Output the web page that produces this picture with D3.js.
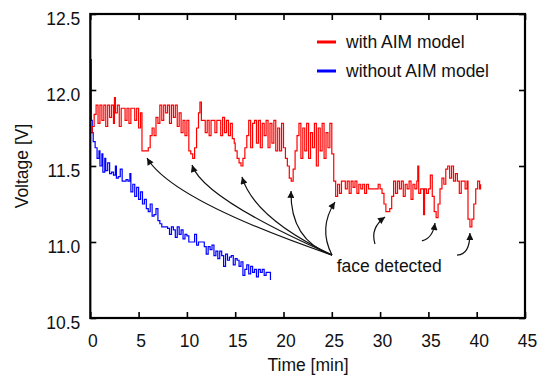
<!DOCTYPE html>
<html>
<head>
<meta charset="utf-8">
<script src="https://cdn.jsdelivr.net/npm/d3@7"></script>
<style>
  body { margin: 0; background: #fff; }
  text { font-family: "Liberation Sans", Arial, Helvetica, sans-serif; fill: #111; }
</style>
</head>
<body>
<div id="chart"></div>
<script>
// voltage traces, [time (min), volts]
var withAim = [
  [0,11.72],[0.2,11.76],[0.4,11.84],
  [0.6,11.90],[0.8,11.78],[1.0,11.90],[1.2,11.80],[1.4,11.90],[1.6,11.76],[1.8,11.90],[2.0,11.82],[2.2,11.90],[2.4,11.78],[2.5,11.95],[2.6,11.85],[2.8,11.90],[3.0,11.76],[3.2,11.88],[3.4,11.88],[3.6,11.80],[3.8,11.88],[4.0,11.78],[4.2,11.88],[4.4,11.88],[4.6,11.80],[4.8,11.88],[5.0,11.75],[5.2,11.85],
  [5.35,11.60],[5.6,11.60],[5.8,11.60],[6.0,11.62],
  [6.2,11.70],[6.4,11.75],[6.6,11.70],[6.8,11.82],[7.0,11.78],[7.2,11.90],[7.4,11.80],[7.6,11.90],[7.8,11.85],[8.0,11.90],[8.2,11.78],[8.4,11.90],[8.6,11.82],[8.8,11.90],[9.0,11.76],[9.2,11.85],[9.4,11.72],[9.6,11.80],[9.8,11.70],[10.0,11.80],
  [10.2,11.60],[10.4,11.58],[10.6,11.55],[10.8,11.62],
  [11.0,11.75],[11.2,11.85],[11.35,11.92],[11.5,11.80],[11.7,11.80],[11.9,11.72],[12.1,11.80],[12.3,11.70],[12.5,11.80],[12.7,11.80],[12.9,11.72],[13.1,11.80],[13.3,11.80],[13.5,11.70],[13.7,11.82],[13.9,11.72],[14.1,11.80],[14.3,11.70],[14.5,11.78],[14.7,11.68],[14.9,11.65],[15.0,11.60],
  [15.2,11.55],[15.4,11.52],[15.6,11.50],[15.8,11.55],[16.0,11.62],
  [16.2,11.70],[16.4,11.80],[16.6,11.62],[16.8,11.78],[17.0,11.80],[17.2,11.65],[17.4,11.80],[17.6,11.62],[17.8,11.78],[18.0,11.70],[18.2,11.80],[18.4,11.62],[18.6,11.78],[18.8,11.65],[19.0,11.80],[19.2,11.60],[19.4,11.75],[19.6,11.60],[19.8,11.78],[20.0,11.62],[20.2,11.55],
  [20.4,11.50],[20.6,11.42],[20.8,11.40],[21.0,11.48],
  [21.2,11.60],[21.4,11.70],[21.6,11.78],[21.8,11.55],[22.0,11.75],[22.2,11.60],[22.4,11.78],[22.6,11.55],[22.8,11.72],[23.0,11.62],[23.2,11.78],[23.4,11.50],[23.6,11.75],[23.8,11.60],[24.0,11.78],[24.2,11.55],[24.4,11.72],[24.6,11.62],[24.8,11.78],[25.0,11.58],
  [25.2,11.40],[25.4,11.30],[25.6,11.38],[25.8,11.32],[26.0,11.40],[26.2,11.40],[26.4,11.35],[26.6,11.40],[26.8,11.32],[27.0,11.40],[27.2,11.36],[27.4,11.40],[27.6,11.32],[27.8,11.38],[28.0,11.35],[28.2,11.38],[28.4,11.32],[28.6,11.38],[28.8,11.35],[29.0,11.35],[29.2,11.35],[29.4,11.35],[29.6,11.35],[29.8,11.38],[30.0,11.35],[30.2,11.32],
  [30.4,11.25],[30.6,11.20],[30.8,11.20],[31.0,11.22],[31.2,11.30],
  [31.4,11.40],[31.6,11.32],[31.8,11.40],[32.0,11.35],[32.2,11.40],[32.4,11.30],[32.6,11.38],[32.8,11.35],[33.0,11.40],[33.2,11.28],[33.4,11.38],[33.6,11.35],[33.8,11.40],[33.9,11.50],[34.0,11.32],[34.2,11.35],[34.4,11.35],[34.5,11.18],[34.6,11.35],[34.8,11.32],[35.0,11.35],[35.2,11.44],[35.4,11.30],
  [35.6,11.20],[35.8,11.16],[36.0,11.25],
  [36.2,11.35],[36.4,11.42],[36.6,11.38],[36.8,11.48],[37.0,11.50],[37.2,11.42],[37.4,11.50],[37.6,11.40],[37.8,11.45],[38.0,11.40],[38.2,11.32],[38.4,11.40],[38.6,11.40],[38.8,11.35],[39.0,11.40],
  [39.1,11.15],[39.3,11.10],[39.5,11.15],[39.7,11.25],[39.9,11.35],[40.1,11.40],[40.3,11.35],[40.4,11.38]
];

var withoutAim = [
  [0,12.20],[0.1,11.80],[0.2,11.72],[0.3,11.66],[0.5,11.62],[0.7,11.55],[0.9,11.60],[1.0,11.50],[1.2,11.58],[1.3,11.46],[1.5,11.55],[1.6,11.47],[1.8,11.52],[2.0,11.45],[2.2,11.46],[2.4,11.44],[2.6,11.50],[2.7,11.42],[2.9,11.43],[3.1,11.48],[3.3,11.40],[3.5,11.40],[3.7,11.41],[3.9,11.40],[4.1,11.45],[4.2,11.33],[4.4,11.38],[4.6,11.30],[4.8,11.36],[5.0,11.28],[5.2,11.33],[5.4,11.25],[5.6,11.28],[5.8,11.22],[6.0,11.20],[6.2,11.25],[6.4,11.17],[6.6,11.18],[6.8,11.22],[7.0,11.14],[7.2,11.12],[7.4,11.10],[7.6,11.10],[7.8,11.10],[8.0,11.09],[8.2,11.05],[8.4,11.10],[8.6,11.08],[8.8,11.03],[9.0,11.10],[9.2,11.05],[9.4,11.08],[9.6,11.02],[9.8,11.05],[10.0,11.04],[10.2,11.00],[10.4,11.00],[10.6,11.00],[10.8,11.05],[11.0,10.98],[11.2,11.00],[11.4,11.00],[11.6,11.00],[11.8,10.97],[12.0,10.92],[12.2,10.97],[12.4,10.95],[12.6,10.98],[12.8,10.91],[13.0,10.94],[13.2,10.89],[13.4,10.94],[13.6,10.91],[13.8,10.84],[14.0,10.92],[14.2,10.88],[14.4,10.90],[14.6,10.91],[14.8,10.85],[15.0,10.89],[15.2,10.88],[15.4,10.84],[15.6,10.87],[15.8,10.78],[16.0,10.82],[16.2,10.85],[16.4,10.79],[16.6,10.84],[16.8,10.80],[17.0,10.82],[17.2,10.77],[17.4,10.82],[17.6,10.80],[17.8,10.82],[18.0,10.78],[18.2,10.80],[18.4,10.80],[18.6,10.80],[18.65,10.75]
];

var seriesNames = ["with AIM model", "without AIM model"];
var seriesColors = ["#ff0000", "#0000ff"];
var xTicks = [0,5,10,15,20,25,30,35,40,45];
var yTicks = [10.5,11.0,11.5,12.0,12.5];

// "face detected" arrows: start, bend, tip (time, volts)
var arrowStarts = [[25.02,10.914],[25.02,10.914],[25.02,10.914],[25.02,10.914],[25.02,10.914],[29.47,10.987],[34.33,11.007],[37.96,10.914]];
var arrowBends  = [[8.46,11.276],[11.67,11.289],[16.95,11.158],[20.67,11.013],[23.57,11.092],[28.95,11.092],[35.47,11.026],[39.30,10.914]];
var arrowTips   = [[5.87,11.553],[10.53,11.507],[15.70,11.428],[20.78,11.336],[25.33,11.263],[30.51,11.164],[35.68,11.125],[39.30,11.059]];
var noteText = "face detected";
var notePos = [25.5, 10.80];

var width = 539, height = 376;
var x = d3.scaleLinear().domain([0,45]).range([90.3,525]);
var y = d3.scaleLinear().domain([10.5,12.5]).range([318,14]);

var svg = d3.select("#chart").append("svg")
  .attr("width", width)
  .attr("height", height);

svg.append("defs").append("marker")
  .attr("id", "head")
  .attr("viewBox", "0 0 10 10")
  .attr("refX", 10).attr("refY", 5)
  .attr("markerWidth", 8).attr("markerHeight", 7)
  .attr("markerUnits", "userSpaceOnUse")
  .attr("orient", "auto")
  .append("path")
  .attr("d", "M0,0 L10,5 L0,10 z")
  .style("fill", "#111");

// data lines
var line = d3.line()
  .x(function(d) { return x(d[0]); })
  .y(function(d) { return y(d[1]); })
  .curve(d3.curveStepAfter);

svg.append("path").datum(withoutAim)
  .attr("d", line)
  .style("fill", "none").style("stroke", seriesColors[1]).style("stroke-width", 1.2);
svg.append("path").datum(withAim)
  .attr("d", line)
  .style("fill", "none").style("stroke", seriesColors[0]).style("stroke-width", 1.2);

// axes, ticks inward on all four sides
var fmtY = d3.format(".1f");
var gx = svg.append("g").attr("transform", "translate(0,318)")
  .call(d3.axisBottom(x).tickValues(xTicks).tickSizeInner(-6).tickSizeOuter(0).tickPadding(17).tickFormat(d3.format("d")));
var gy = svg.append("g").attr("transform", "translate(90.3,0)")
  .call(d3.axisLeft(y).tickValues(yTicks).tickSizeInner(-6).tickSizeOuter(0).tickPadding(10).tickFormat(fmtY));
var gt = svg.append("g").attr("transform", "translate(0,14)")
  .call(d3.axisTop(x).tickValues(xTicks).tickSizeInner(-6).tickSizeOuter(0).tickFormat(""));
var gr = svg.append("g").attr("transform", "translate(525,0)")
  .call(d3.axisRight(y).tickValues(yTicks).tickSizeInner(-6).tickSizeOuter(0).tickFormat(""));

[gx, gy, gt, gr].forEach(function(g) {
  g.select(".domain").remove();
  g.selectAll(".tick line").style("stroke", "#000").style("stroke-width", 1.6);
  g.selectAll(".tick text").style("font-size", "17.5px").style("fill", "#111")
    .style("font-family", "'Liberation Sans', Arial, Helvetica, sans-serif");
});
gx.selectAll(".tick text").attr("dx", 2);
gy.selectAll(".tick text").attr("y", 5);

svg.append("rect")
  .attr("x", 90.3).attr("y", 14)
  .attr("width", 525 - 90.3).attr("height", 318 - 14)
  .style("fill", "none").style("stroke", "#000").style("stroke-width", 2.2);

// axis titles
svg.append("text")
  .attr("x", 308).attr("y", 371)
  .attr("text-anchor", "middle")
  .style("font-size", "17.5px")
  .text("Time [min]");
svg.append("text")
  .attr("transform", "translate(28,166) rotate(-90)")
  .attr("text-anchor", "middle")
  .style("font-size", "17.5px")
  .text("Voltage [V]");

// legend
var legend = svg.append("g");
seriesNames.forEach(function(name, i) {
  legend.append("line")
    .attr("x1", 317).attr("x2", 336)
    .attr("y1", 42 + i * 29).attr("y2", 42 + i * 29)
    .style("stroke", seriesColors[i]).style("stroke-width", 3);
  legend.append("text")
    .attr("x", 346).attr("y", 48 + i * 29)
    .style("font-size", "17.5px")
    .text(name);
});

// annotation
arrowTips.forEach(function(tip, i) {
  var s = arrowStarts[i], c = arrowBends[i];
  var p = d3.path();
  p.moveTo(x(s[0]), y(s[1]));
  p.quadraticCurveTo(x(c[0]), y(c[1]), x(tip[0]), y(tip[1]));
  svg.append("path")
    .attr("d", p.toString())
    .attr("marker-end", "url(#head)")
    .style("fill", "none").style("stroke", "#111").style("stroke-width", 1.2);
});
svg.append("text")
  .attr("x", x(notePos[0])).attr("y", y(notePos[1]))
  .style("font-size", "17.5px")
  .text(noteText);
</script>
</body>
</html>
